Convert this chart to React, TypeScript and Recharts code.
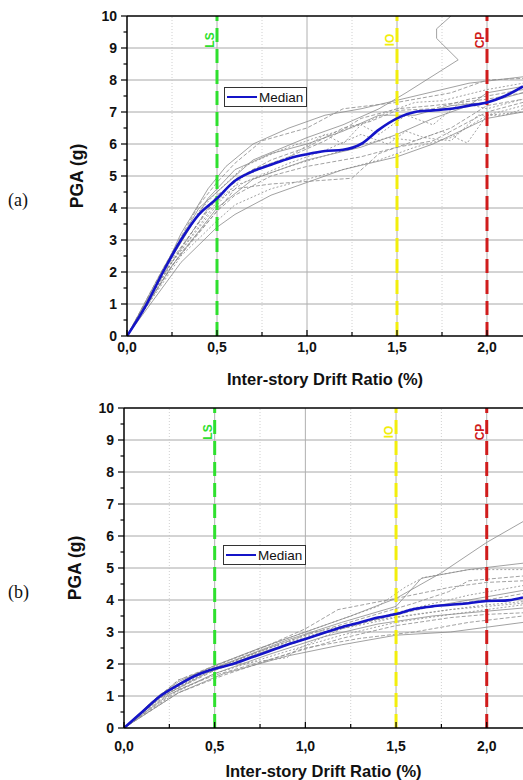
import React from 'react';
import { LineChart, Line, XAxis, YAxis, ReferenceLine, Legend } from 'recharts';

type Pt = [number, number];

// axis ticks (major + minor)
const xTicks = [0, 0.25, 0.5, 0.75, 1, 1.25, 1.5, 1.75, 2];
const xMajor = [0, 0.5, 1, 1.5, 2];
const yTicks = [0, 0.5, 1, 1.5, 2, 2.5, 3, 3.5, 4, 4.5, 5, 5.5, 6, 6.5, 7, 7.5, 8, 8.5, 9, 9.5, 10];
const yGrid = [1, 2, 3, 4, 5, 6, 7, 8, 9];
const xGridMinor = [0.25, 0.75, 1.25, 1.75];
const xGridMajor = [0.5, 1, 1.5, 2];

// performance limits
const limits = [
  { x: 0.5, name: 'LS', color: '#2ee02e' },
  { x: 1.5, name: 'IO', color: '#f2ee0c' },
  { x: 2.0, name: 'CP', color: '#d01c1c' },
];

// (a) median IDA curve
const medianA: Pt[] = [
  [0, 0], [0.1, 0.9], [0.2, 2.0], [0.3, 3.0], [0.4, 3.8], [0.5, 4.3], [0.6, 4.85], [0.7, 5.15],
  [0.8, 5.35], [0.9, 5.55], [1.0, 5.68], [1.1, 5.78], [1.2, 5.82], [1.3, 6.0], [1.4, 6.45],
  [1.5, 6.8], [1.6, 7.0], [1.7, 7.05], [1.8, 7.1], [1.9, 7.2], [2.0, 7.3], [2.1, 7.5], [2.2, 7.8],
];

// (a) single-record IDA curves
const curvesA: Pt[][] = [
  [[0, 0], [0.15, 1.4], [0.3, 3.2], [0.45, 4.6], [0.55, 5.3], [0.7, 6.0], [0.9, 6.5], [1.1, 6.9], [1.3, 7.1], [1.6, 7.5], [1.9, 7.9], [2.2, 8.1]],
  [[0, 0], [0.2, 2.1], [0.4, 4.1], [0.5, 4.8], [0.6, 5.4], [0.75, 6.1], [1.0, 6.5], [1.2, 7.1], [1.5, 7.3], [1.8, 7.6], [2.0, 8.0], [2.2, 8.05]],
  [[0, 0], [0.2, 2.0], [0.4, 3.9], [0.5, 4.5], [0.65, 5.3], [0.85, 5.8], [1.05, 6.2], [1.3, 6.6], [1.45, 7.0], [1.6, 7.3], [1.75, 7.35], [2.0, 7.7], [2.2, 7.9]],
  [[0, 0], [0.2, 2.1], [0.4, 4.0], [0.5, 4.5], [0.7, 5.5], [1.0, 6.2], [1.2, 6.6], [1.4, 7.1], [1.55, 7.6], [1.84, 8.63], [1.72, 9.3], [1.72, 9.6], [1.8, 10.0]],
  [[0, 0], [0.25, 2.4], [0.5, 4.3], [0.6, 4.9], [0.8, 5.5], [1.0, 5.9], [1.2, 6.5], [1.35, 6.7], [1.5, 7.05], [1.7, 7.1], [1.9, 7.4], [2.0, 7.5], [2.2, 7.7]],
  [[0, 0], [0.25, 2.3], [0.5, 4.1], [0.65, 5.0], [0.9, 5.6], [1.1, 6.3], [1.2, 6.0], [1.3, 6.6], [1.4, 6.3], [1.55, 6.9], [1.7, 6.6], [1.85, 7.3], [2.0, 7.1], [2.2, 7.4]],
  [[0, 0], [0.25, 2.2], [0.5, 4.0], [0.7, 4.9], [1.0, 5.5], [1.3, 5.9], [1.5, 6.3], [1.7, 6.8], [1.9, 7.2], [2.0, 7.6], [2.2, 7.8]],
  [[0, 0], [0.3, 2.6], [0.5, 3.9], [0.6, 4.4], [0.8, 5.0], [1.0, 5.3], [1.3, 5.6], [1.5, 5.9], [1.7, 6.1], [1.9, 6.7], [2.0, 7.0], [2.2, 7.3]],
  [[0, 0], [0.3, 2.5], [0.5, 3.6], [0.6, 4.1], [0.8, 4.6], [1.0, 4.9], [1.2, 5.2], [1.4, 5.5], [1.6, 5.9], [1.8, 6.2], [2.0, 6.9], [2.2, 7.0]],
  [[0, 0], [0.3, 2.3], [0.5, 3.4], [0.6, 3.8], [0.8, 4.4], [1.0, 4.8], [1.2, 5.2], [1.5, 5.6], [1.7, 6.0], [2.0, 6.8], [2.2, 7.0]],
  [[0, 0], [0.25, 2.2], [0.5, 3.9], [0.6, 4.6], [0.8, 4.75], [1.25, 4.93], [1.4, 5.7], [1.6, 6.1], [1.8, 6.5], [2.0, 7.2], [2.2, 7.4]],
  [[0, 0], [0.2, 1.9], [0.45, 4.0], [0.6, 4.7], [0.9, 5.3], [1.2, 5.8], [1.45, 6.2], [1.6, 6.1], [1.75, 6.4], [1.89, 6.03], [2.0, 6.9], [2.2, 7.2]],
  [[0, 0], [0.2, 2.0], [0.45, 4.3], [0.6, 5.2], [0.8, 5.7], [1.0, 6.0], [1.2, 6.4], [1.4, 6.9], [1.6, 6.9], [1.8, 7.2], [2.0, 7.3], [2.2, 7.6]],
  [[0, 0], [0.2, 1.9], [0.5, 4.4], [0.7, 5.2], [0.9, 5.6], [1.1, 6.1], [1.3, 6.8], [1.5, 7.1], [1.7, 7.2], [2.0, 7.4], [2.2, 7.6]],
  [[0, 0], [0.25, 2.3], [0.5, 4.2], [0.65, 4.8], [0.9, 5.4], [1.1, 5.8], [1.3, 6.3], [1.45, 6.0], [1.55, 6.4], [1.65, 6.2], [1.8, 6.1], [1.95, 6.9], [2.1, 6.9], [2.2, 7.1]],
];

// (b) median IDA curve
const medianB: Pt[] = [
  [0, 0], [0.1, 0.5], [0.2, 1.0], [0.3, 1.35], [0.4, 1.65], [0.5, 1.85], [0.6, 2.0], [0.7, 2.2],
  [0.8, 2.4], [0.9, 2.6], [1.0, 2.78], [1.1, 2.97], [1.2, 3.15], [1.3, 3.3], [1.4, 3.45],
  [1.5, 3.56], [1.6, 3.72], [1.7, 3.8], [1.8, 3.85], [1.9, 3.9], [2.0, 3.97], [2.1, 3.98], [2.2, 4.08],
];

// (b) single-record IDA curves
const curvesB: Pt[][] = [
  [[0, 0], [0.15, 0.8], [0.3, 1.45], [0.5, 1.95], [0.75, 2.5], [1.0, 3.0], [1.25, 3.5], [1.5, 4.05], [1.75, 4.85], [2.0, 5.8], [2.2, 6.45]],
  [[0, 0], [0.15, 0.8], [0.3, 1.5], [0.5, 1.95], [0.8, 2.6], [1.0, 3.1], [1.18, 3.7], [1.5, 4.05], [1.8, 4.4], [2.0, 4.55], [2.2, 4.6]],
  [[0, 0], [0.2, 1.0], [0.4, 1.7], [0.6, 2.15], [0.9, 2.8], [1.2, 3.4], [1.4, 3.8], [1.55, 4.4], [1.65, 4.7], [1.9, 4.95], [2.2, 4.95]],
  [[0, 0], [0.2, 1.05], [0.35, 1.55], [0.6, 2.1], [0.9, 2.75], [1.2, 3.3], [1.5, 3.8], [1.64, 4.68], [1.9, 4.95], [2.2, 5.15]],
  [[0, 0], [0.2, 1.0], [0.4, 1.65], [0.7, 2.3], [1.0, 2.9], [1.3, 3.4], [1.6, 3.9], [1.79, 4.26], [1.9, 4.6], [2.1, 4.7], [2.2, 4.75]],
  [[0, 0], [0.2, 0.95], [0.45, 1.75], [0.75, 2.4], [1.0, 2.85], [1.3, 3.3], [1.6, 3.75], [1.9, 4.15], [2.2, 4.45]],
  [[0, 0], [0.2, 0.95], [0.45, 1.7], [0.75, 2.35], [1.0, 2.8], [1.3, 3.3], [1.6, 3.7], [2.0, 4.1], [2.2, 4.3]],
  [[0, 0], [0.25, 1.1], [0.5, 1.8], [0.8, 2.4], [1.1, 2.95], [1.4, 3.4], [1.7, 3.8], [2.0, 4.0], [2.2, 4.2]],
  [[0, 0], [0.25, 1.15], [0.5, 1.85], [0.8, 2.5], [1.05, 3.0], [1.3, 3.3], [1.6, 3.55], [2.0, 3.85], [2.2, 3.95]],
  [[0, 0], [0.25, 1.05], [0.5, 1.7], [0.8, 2.3], [1.1, 2.85], [1.4, 3.25], [1.7, 3.5], [2.0, 3.65], [2.2, 3.75]],
  [[0, 0], [0.3, 1.2], [0.5, 1.65], [0.9, 2.3], [1.2, 2.8], [1.5, 3.2], [1.8, 3.45], [2.0, 3.55], [2.2, 3.6]],
  [[0, 0], [0.3, 1.15], [0.5, 1.7], [0.9, 2.4], [1.2, 2.9], [1.5, 3.3], [1.8, 3.55], [2.0, 3.7], [2.2, 3.85]],
  [[0, 0], [0.3, 1.1], [0.55, 1.7], [0.9, 2.25], [1.2, 2.6], [1.5, 2.9], [1.8, 3.0], [2.0, 3.15], [2.2, 3.3]],
  [[0, 0], [0.3, 1.1], [0.55, 1.65], [1.0, 2.5], [1.3, 2.8], [1.6, 3.0], [1.9, 3.3], [2.2, 3.5]],
  [[0, 0], [0.2, 1.0], [0.3, 1.5], [0.5, 1.9], [0.9, 2.2], [0.95, 2.45], [1.2, 3.1], [1.5, 3.45], [1.8, 3.7], [2.2, 3.9]],
];

const SANS = '"Liberation Sans", Arial, sans-serif';
const toRows = (pts: Pt[]) => pts.map(([x, y]) => ({ x, y }));
const comma = (v: number) => v.toFixed(1).replace('.', ',');
const grayDash = ['0', '4 2', '2 2'];

const XTick = (props: any) => {
  const { x, y, payload, labelGap } = props;
  const major = xMajor.includes(payload.value);
  return (
    <g>
      <line x1={x} x2={x} y1={y} y2={y - (major ? 6 : 4)} stroke="#000" strokeWidth={1.2} />
      {major && (
        <text x={x} y={y + labelGap} textAnchor="middle" dominantBaseline="central"
          fontFamily={SANS} fontWeight="bold" fontSize={14} fill="#111">
          {comma(payload.value)}
        </text>
      )}
    </g>
  );
};

const YTick = (props: any) => {
  const { x, y, payload } = props;
  const major = Number.isInteger(payload.value);
  return (
    <g>
      <line x1={x} x2={x - (major ? 6 : 3.5)} y1={y} y2={y} stroke="#000" strokeWidth={1.2} />
      {major && (
        <text x={x - 10} y={y} textAnchor="end" dominantBaseline="central"
          fontFamily={SANS} fontWeight="bold" fontSize={14} fill="#111">
          {payload.value}
        </text>
      )}
    </g>
  );
};

const MedianLegend = (props: any) => {
  const item = (props.payload || []).find((p: any) => p.value === 'Median');
  return (
    <div style={{
      display: 'flex', alignItems: 'center', border: '1px solid #333', background: '#fff',
      padding: '0 3px 0 2px', height: 18, fontFamily: SANS, fontSize: 13.5, color: '#111',
    }}>
      <span style={{ width: 30, borderTop: `2px solid ${item ? item.color : '#1414c8'}`, marginRight: 2 }} />
      Median
    </div>
  );
};

interface PanelProps {
  tag: string;
  median: Pt[];
  curves: Pt[][];
  top: number;
  yAxisWidth: number;
  yTitleX: number;
  xLabelGap: number;
  legendPos: { left: number; top: number };
}

const Panel: React.FC<PanelProps> = ({ tag, median, curves, top, yAxisWidth, yTitleX, xLabelGap, legendPos }) => (
  <div style={{ position: 'absolute', left: 0, top, width: 523, height: 390 }}>
    <div style={{ position: 'absolute', left: 8, top: 190, fontFamily: '"Liberation Serif", "Times New Roman", serif', fontSize: 18, color: '#111' }}>
      {tag}
    </div>
    <LineChart width={523} height={390} margin={{ top: 16, right: 0, left: 0, bottom: 0 }}>
      <XAxis
        type="number"
        dataKey="x"
        domain={[0, 2.2]}
        allowDataOverflow
        ticks={xTicks}
        interval={0}
        height={54}
        tickSize={0}
        tickMargin={0}
        tickLine={false}
        tick={<XTick labelGap={xLabelGap} />}
        axisLine={{ stroke: '#000', strokeWidth: 1.5 }}
        label={{
          content: ({ viewBox }: any) => (
            <text x={viewBox.x + viewBox.width / 2} y={viewBox.y + 43} textAnchor="middle" dominantBaseline="central"
              fontFamily={SANS} fontWeight="bold" fontSize={16.5} fill="#111">
              Inter-story Drift Ratio (%)
            </text>
          ),
        }}
      />
      <YAxis
        type="number"
        dataKey="y"
        domain={[0, 10]}
        allowDataOverflow
        ticks={yTicks}
        interval={0}
        width={yAxisWidth}
        tickSize={0}
        tickMargin={0}
        tickLine={false}
        tick={<YTick />}
        axisLine={{ stroke: '#000', strokeWidth: 1.5 }}
        label={{
          content: ({ viewBox }: any) => {
            const cy = viewBox.y + viewBox.height / 2;
            return (
              <text x={yTitleX} y={cy} transform={`rotate(-90 ${yTitleX} ${cy})`} textAnchor="middle" dominantBaseline="central"
                fontFamily={SANS} fontWeight="bold" fontSize={17.5} fill="#111">
                PGA (g)
              </text>
            );
          },
        }}
      />
      {yGrid.map((v) => (
        <ReferenceLine key={`gy${v}`} y={v} stroke="#a8a8a8" strokeWidth={1} />
      ))}
      {xGridMinor.map((v) => (
        <ReferenceLine key={`gxm${v}`} x={v} stroke="#c4c4c4" strokeWidth={0.8} strokeDasharray="1 2" />
      ))}
      {xGridMajor.map((v) => (
        <ReferenceLine key={`gx${v}`} x={v} stroke="#b0b0b0" strokeWidth={1} />
      ))}
      {curves.map((c, i) => (
        <Line
          key={`c${i}`}
          data={toRows(c)}
          dataKey="y"
          type="linear"
          stroke="#8a8a8a"
          strokeWidth={0.8}
          strokeDasharray={grayDash[i % 3]}
          dot={false}
          activeDot={false}
          legendType="none"
          isAnimationActive={false}
        />
      ))}
      {limits.map((l) => (
        <ReferenceLine
          key={l.name}
          x={l.x}
          stroke={l.color}
          strokeWidth={3}
          strokeDasharray="14 7"
          label={{
            content: ({ viewBox }: any) => {
              const lx = viewBox.x - 7;
              const ly = viewBox.y + 24;
              return (
                <text x={lx} y={ly} transform={`rotate(-90 ${lx} ${ly})`} textAnchor="middle" dominantBaseline="central"
                  fontFamily={SANS} fontWeight="bold" fontSize={12} fill={l.color}>
                  {l.name}
                </text>
              );
            },
          }}
        />
      ))}
      <Line
        data={toRows(median)}
        dataKey="y"
        name="Median"
        type="monotone"
        stroke="#1414c8"
        strokeWidth={2.6}
        dot={false}
        activeDot={false}
        isAnimationActive={false}
      />
      <ReferenceLine y={10} stroke="#000" strokeWidth={1.5} />
      <Legend
        layout="vertical"
        align="center"
        verticalAlign="middle"
        content={<MedianLegend />}
        wrapperStyle={{ left: legendPos.left, top: legendPos.top, width: 'auto', height: 'auto' }}
      />
    </LineChart>
  </div>
);

export default function App() {
  return (
    <div style={{ position: 'absolute', left: 0, top: 0, width: 523, height: 780, background: '#fff', overflow: 'hidden' }}>
      <Panel tag="(a)" median={medianA} curves={curvesA} top={0} yAxisWidth={127} yTitleX={77}
        xLabelGap={11} legendPos={{ left: 224, top: 87 }} />
      <Panel tag="(b)" median={medianB} curves={curvesB} top={392} yAxisWidth={124} yTitleX={75}
        xLabelGap={18} legendPos={{ left: 223, top: 153 }} />
    </div>
  );
}
